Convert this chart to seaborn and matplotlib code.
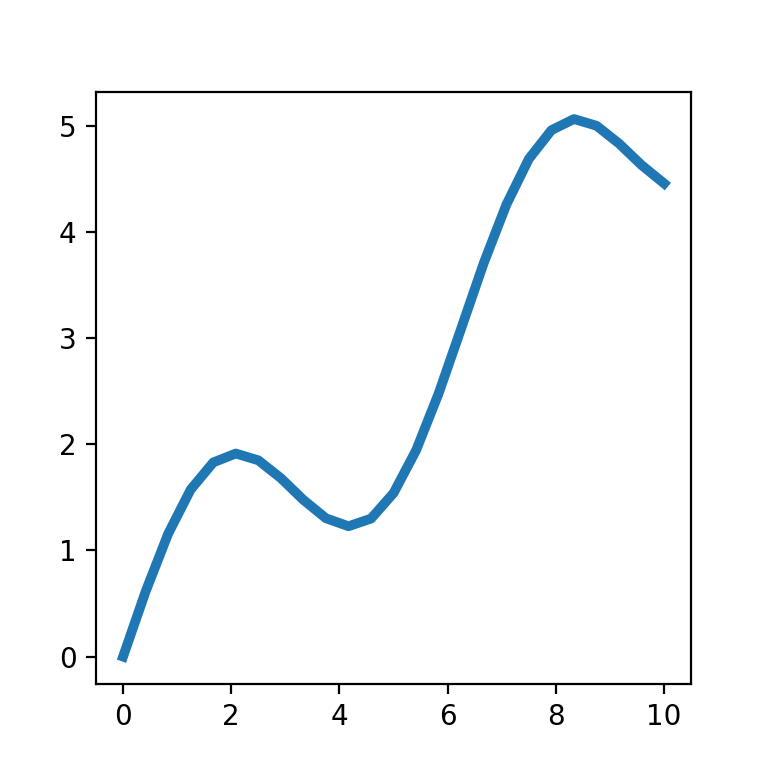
import matplotlib
matplotlib.use("Agg")
import matplotlib.pyplot as plt
import seaborn as sns

# values
x_vals = [0.0, 0.4167, 0.8333, 1.25, 1.6667, 2.0833, 2.5, 2.9167, 3.3333,
          3.75, 4.1667, 4.5833, 5.0, 5.4167, 5.8333, 6.25, 6.6667, 7.0833,
          7.5, 7.9167, 8.3333, 8.75, 9.1667, 9.5833, 10.0]
y_vals = [0.0, 0.613, 1.157, 1.574, 1.829, 1.913, 1.849, 1.681, 1.476,
          1.303, 1.228, 1.300, 1.541, 1.944, 2.480, 3.092, 3.708, 4.256,
          4.688, 4.958, 5.063, 5.000, 4.832, 4.629, 4.456]

fig, ax = plt.subplots(figsize=(3.84, 3.84), dpi=200)
sns.lineplot(x=x_vals, y=y_vals, ax=ax, color="#1f77b4", linewidth=3.5)
ax.set_xticks([0, 2, 4, 6, 8, 10])
ax.set_yticks([0, 1, 2, 3, 4, 5])
plt.savefig("out.png", dpi=200)
